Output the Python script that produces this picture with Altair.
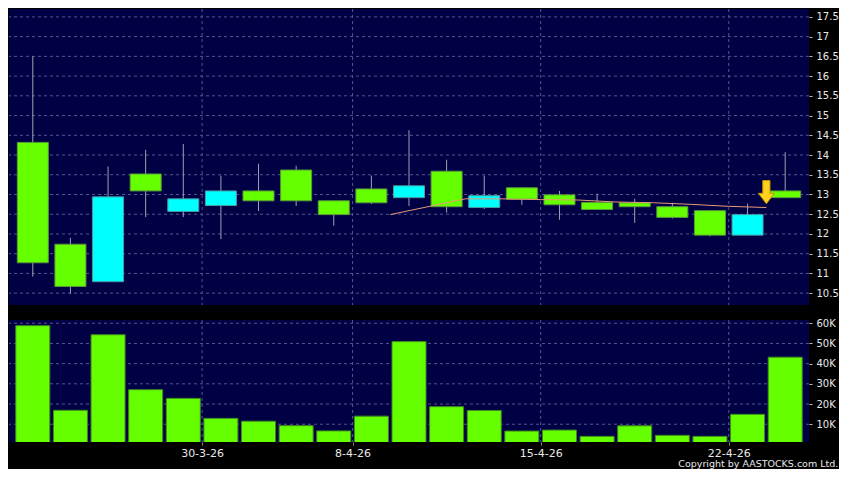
import altair as alt
import pandas as pd

# ---- data ----
dates = ["23-3-26", "24-3-26", "25-3-26", "26-3-26", "27-3-26", "30-3-26", "31-3-26",
         "1-4-26", "2-4-26", "8-4-26", "9-4-26", "10-4-26", "13-4-26", "14-4-26",
         "15-4-26", "16-4-26", "17-4-26", "20-4-26", "21-4-26", "22-4-26", "23-4-26"]
open_ = [14.32, 11.74, 10.79, 13.52, 12.57, 12.72, 13.09, 13.62, 12.84, 13.14, 12.92,
         13.59, 12.67, 13.17, 12.99, 12.80, 12.79, 12.69, 12.59, 11.97, 13.09]
high = [16.50, 11.90, 13.71, 14.13, 14.28, 13.48, 13.78, 13.73, 12.84, 13.48, 14.63,
        13.88, 13.48, 13.17, 13.09, 13.02, 12.89, 12.79, 12.59, 12.77, 14.07]
low = [10.92, 10.48, 10.79, 12.43, 12.43, 11.87, 12.58, 12.71, 12.21, 12.76, 12.71,
       12.54, 12.63, 12.74, 12.36, 12.62, 12.28, 12.39, 11.94, 11.97, 12.92]
close = [11.27, 10.67, 12.94, 13.09, 12.89, 13.09, 12.84, 12.84, 12.49, 12.79, 13.22,
         12.69, 12.97, 12.88, 12.74, 12.62, 12.69, 12.42, 11.97, 12.49, 12.92]
volume = [58800, 16900, 54300, 27100, 22800, 12900, 11500, 9300, 6700, 14000, 50900,
          18700, 16800, 6600, 7100, 4000, 9200, 4500, 4000, 14900, 43200]

# 10-day moving average (as drawn), starting at the 10th session
ma_start = 9
ma10 = [12.49, 12.69, 12.89, 12.89, 12.87, 12.86, 12.81, 12.79, 12.75, 12.70, 12.67]

# yellow marker arrow
arrow_session = [19]
arrow_price = [13.03]

tick_dates = ["30-3-26", "8-4-26", "15-4-26", "22-4-26"]
price_ticks = [10.5, 11, 11.5, 12, 12.5, 13, 13.5, 14, 14.5, 15, 15.5, 16, 16.5, 17, 17.5]
volume_ticks = [10000, 20000, 30000, 40000, 50000, 60000]

# ---- tables ----
df = pd.DataFrame({"i": list(range(len(dates))), "date": dates, "open": open_,
                   "high": high, "low": low, "close": close, "volume": volume})
ma_df = pd.DataFrame({"i": list(range(ma_start, ma_start + len(ma10))), "ma": ma10})
arrow_df = pd.DataFrame({"i": arrow_session, "price": arrow_price})

tick_vals = [dates.index(d) - 0.5 for d in tick_dates]
label_expr = " : ".join(f"datum.value == {v} ? '{d}'" for v, d in zip(tick_vals, tick_dates)) + " : ''"
xgrid_df = pd.DataFrame({"t": tick_vals})
pgrid_df = pd.DataFrame({"p": price_ticks})
vgrid_df = pd.DataFrame({"v": volume_ticks})

FONT = "DejaVu Sans"
TXT = "#E8E8E8"
GRID = "#55558F"
W = 800

xscale = alt.Scale(domain=[-0.5, len(dates) - 0.5], nice=False, zero=False)
yscale = alt.Scale(domain=[10.2, 17.7], nice=False, zero=False)
vscale = alt.Scale(domain=[1200, 61600], nice=False, zero=False)

hide_domain = dict(domain=False, domainOpacity=0, grid=False)

x_upper_axis = alt.Axis(values=tick_vals, labels=False, ticks=False, title=None, **hide_domain)
y_upper_axis = alt.Axis(orient="right", values=price_ticks, format=".1~f", title=None,
                        labelOverlap=False, **hide_domain)

grid_style = dict(color=GRID, strokeDash=[3, 3], strokeWidth=1)

pgrid = alt.Chart(pgrid_df).mark_rule(**grid_style).encode(
    y=alt.Y("p:Q", scale=yscale, axis=y_upper_axis))
xgrid_u = alt.Chart(xgrid_df).mark_rule(**grid_style).encode(
    x=alt.X("t:Q", scale=xscale, axis=x_upper_axis))

base = alt.Chart(df).encode(x=alt.X("i:Q", scale=xscale, axis=x_upper_axis))

wick = base.mark_rule(color="#A0A0B0", strokeWidth=1).encode(
    y=alt.Y("low:Q", scale=yscale, axis=y_upper_axis), y2="high:Q")

body = base.mark_bar(size=31, strokeWidth=1).encode(
    y=alt.Y("open:Q", scale=yscale, axis=y_upper_axis), y2="close:Q",
    color=alt.condition("datum.open < datum.close", alt.value("#00FFFF"), alt.value("#66FF00")),
    stroke=alt.condition("datum.open < datum.close", alt.value("#4A9AA0"), alt.value("#5A9A3A")),
)

ma_line = alt.Chart(ma_df).transform_calculate(x="datum.i + 0.5").mark_line(
    color="#E59A78", strokeWidth=1).encode(
    x=alt.X("x:Q", scale=xscale, axis=x_upper_axis),
    y=alt.Y("ma:Q", scale=yscale, axis=y_upper_axis))

arrow_path = "M-0.45,-1.6 L0.45,-1.6 L0.45,0 L1,0 L0,1.3 L-1,0 L-0.45,0 Z"
arrow = alt.Chart(arrow_df).transform_calculate(x="datum.i + 0.5").mark_point(
    shape=arrow_path, size=256, filled=True, fill="#FFD21F", stroke="#C89000",
    strokeWidth=1, opacity=1).encode(
    x=alt.X("x:Q", scale=xscale, axis=x_upper_axis),
    y=alt.Y("price:Q", scale=yscale, axis=y_upper_axis))

upper = alt.layer(pgrid, xgrid_u, wick, body, ma_line, arrow).properties(width=W, height=296)

x_lower_axis = alt.Axis(values=tick_vals, labelExpr=label_expr, tickSize=3,
                        tickColor="#888888", labelPadding=2, labelFontSize=11, title=None,
                        labelOverlap=False, **hide_domain)
y_lower_axis = alt.Axis(orient="right", values=volume_ticks,
                        labelExpr="(datum.value / 1000) + 'K'", title=None,
                        labelOverlap=False, **hide_domain)

vgrid = alt.Chart(vgrid_df).mark_rule(**grid_style).encode(
    y=alt.Y("v:Q", scale=vscale, axis=y_lower_axis))
xgrid_l = alt.Chart(xgrid_df).mark_rule(**grid_style).encode(
    x=alt.X("t:Q", scale=xscale, axis=x_lower_axis))

vol = alt.Chart(df).mark_bar(size=34, color="#66FF00", stroke="#3E8A1E",
                             strokeWidth=1, clip=True).encode(
    x=alt.X("i:Q", scale=xscale, axis=x_lower_axis),
    y=alt.Y("volume:Q", scale=vscale, axis=y_lower_axis),
)
lower = alt.layer(vgrid, xgrid_l, vol).properties(width=W, height=122)

chart = alt.vconcat(upper, lower, spacing=12).properties(
    background="black",
    padding={"left": 0, "top": 0, "right": 0, "bottom": 0},
    title=alt.TitleParams("Copyright by AASTOCKS.com Ltd.", orient="bottom", anchor="end",
                          fontSize=9.5, font=FONT, color=TXT, fontWeight="normal", offset=1),
).configure_view(fill="#000044", strokeWidth=0).configure_axis(
    domain=False, domainOpacity=0, grid=False, tickSize=3, tickColor="#BBBBBB",
    labelPadding=4, labelColor=TXT, labelFont=FONT, labelFontSize=10,
    labelOverlap=False, labelBound=False, labelFlush=False,
)

chart.save("out.html", embed_options={"renderer": "svg", "actions": False})
